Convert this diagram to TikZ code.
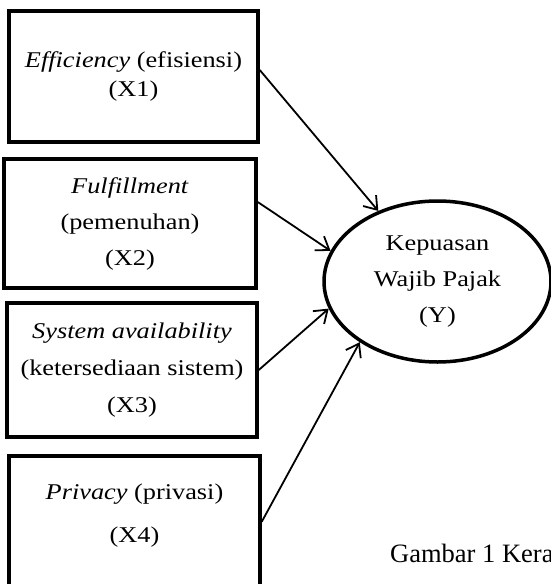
\documentclass[tikz,border=0pt]{standalone}
\usepackage{fontspec}
\setmainfont{Liberation Serif}[FakeStretch=1.17]
\newfontfamily\capfont{Liberation Serif}
\usetikzlibrary{arrows.meta,shapes.geometric}

\begin{document}
\begin{tikzpicture}[x=1pt, y=-1pt,
		box/.style={draw, line width=3.5pt, align=center, inner sep=0pt, minimum width=250pt},
		link/.style={line width=1.8pt, -{Straight Barb[length=12pt,width=17pt]}}]
		\useasboundingbox (0,0) rectangle (551,584);
		\clip (0,0) rectangle (551,584);

		% variable boxes
		\node [box, minimum width=249pt, minimum height=131pt, font=\fontsize{22.5}{29}\selectfont]
			(x1) at (133.5,76.5) {\textit{Efficiency} (efisiensi)\\(X1)};
		\node [box, minimum width=252pt, minimum height=129pt, font=\fontsize{22.5}{36}\selectfont]
			(x2) at (130,223.5) {\textit{Fulfillment}\\(pemenuhan)\\(X2)};
		\node [box, minimum width=250pt, minimum height=134pt, font=\fontsize{22.5}{37}\selectfont]
			(x3) at (132,370) {\textit{System availability}\\(ketersediaan sistem)\\(X3)};
		\node [box, minimum width=251pt, minimum height=160pt, anchor=north]
			(x4) at (134.5,454) {};
		\node [align=center, font=\fontsize{22.5}{43}\selectfont]
			(t4) at (134.5,516) {\textit{Privacy} (privasi)\\(X4)};

		% dependent variable
		\node [draw, ellipse, line width=3.5pt, minimum width=227pt, minimum height=161pt,
			inner sep=0pt, align=center, font=\fontsize{22.5}{36}\selectfont]
			(y) at (437.5,281.5) {Kepuasan\\Wajib Pajak\\(Y)};

		% arrows
		\draw [link] ([yshift=6.5pt]x1.east) -- (y.130);
		\draw [link] ([yshift=21.5pt]x2.east) -- (y.164);
		\draw [link] (x3.east) -- (y.194);
		\draw [link] ([yshift=14pt]x4.east) -- (y.218);

		% caption
		\node [anchor=base west, inner sep=0pt, font=\capfont\fontsize{26.5}{30}\selectfont]
			(cap) at (390,562) {Gambar 1 Kera};
	\end{tikzpicture}
\end{document}
